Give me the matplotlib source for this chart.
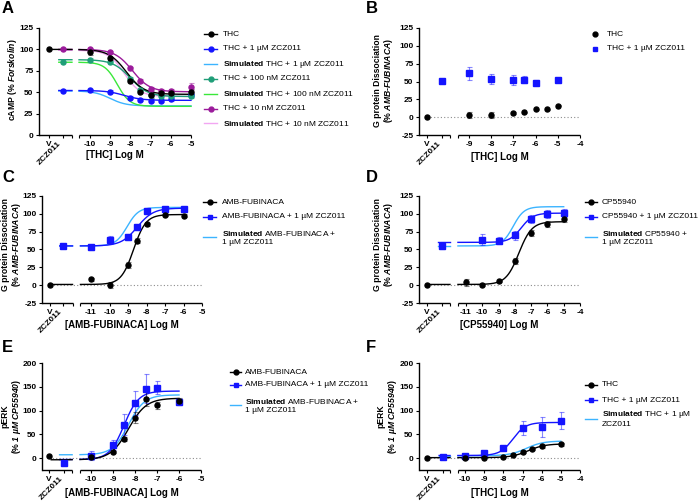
import numpy as np
import matplotlib
matplotlib.use("Agg")
import matplotlib.pyplot as plt
from matplotlib.lines import Line2D

plt.rcParams.update({
    "font.family": "Liberation Sans",
    "font.size": 6,
    "mathtext.fontset": "custom",
    "mathtext.rm": "Liberation Sans",
    "mathtext.it": "Liberation Sans:italic",
    "mathtext.bf": "Liberation Sans:bold",
    "mathtext.bfit": "Liberation Sans:italic:bold",
    "axes.unicode_minus": False,
})

# ---------------- data ----------------
# fit params: (left plateau, right plateau, logEC50, hill)

# A: cAMP, THC with ZCZ011
a_logc = [-10, -9, -8, -7.5, -7, -6.5, -6, -5]
a_thc = [97, 89.5, 63.5, 50.5, 46.5, 48.5, 49.5, 50.5]
a_thc_err = [3, 2, 2, 2, 3, 2, 2, 3]
a_thc_1u = [52, 50.5, 43.5, 41, 40, 40, 42, 46.5]
a_thc_1u_err = [1.5, 1.5, 1.5, 1.5, 2, 2, 2, 2]
a_thc_100n = [87.5, 85, 66, 52.5, 46.5, 45.5, 45.5, 45.5]
a_thc_100n_err = [2, 2, 2, 2, 2, 2, 2, 2]
a_thc_10n = [100, 97, 78, 63, 53.5, 51.5, 51.5, 56.5]
a_thc_10n_err = [1.5, 1.5, 2, 2, 2, 2, 2, 4]
a_vehicle = 100
a_zcz_1u, a_zcz_100n, a_zcz_10n = 51.7, 85.6, 100
a_fit_thc = (100, 47.5, -8.2, 1.0)
a_fit_1u = (52, 40.5, -8.3, 1.0)
a_sim_1u = (51.5, 34, -9.0, 1.1)
a_fit_100n = (88, 45, -8.0, 1.0)
a_sim_100n = (85, 33.5, -8.65, 1.4)
a_fit_10n = (100, 50.5, -7.9, 1.0)
a_sim_10n = (99, 45, -8.3, 1.1)

# B: G protein dissociation, THC
b_logc_thc = [-9, -8, -7, -6.5, -6, -5.5, -5]
b_thc = [2.8, 3, 6, 6.6, 10.8, 10.8, 16]
b_thc_err = [4, 4, 1, 1, 1, 1, 1]
b_logc_zcz = [-9, -8, -7, -6.5, -6, -5]
b_thc_1u = [61.5, 53.6, 51.5, 52.2, 48.4, 52]
b_thc_1u_err = [8.7, 7.3, 7, 5, 4, 2]
b_vehicle = 0
b_zcz_1u = 50.3

# C: G protein dissociation, AMB-FUBINACA
c_logc = [-11, -10, -9, -8.5, -8, -7, -6]
c_amb = [8, 0.5, 28, 62.6, 85.3, 98.6, 97.2]
c_amb_err = [2, 4, 4, 3, 2, 2, 2]
c_amb_1u = [53, 63.5, 67.8, 81, 103.5, 106.3, 107]
c_amb_1u_err = [4, 6, 4, 4, 4, 2, 2]
c_vehicle = 0
c_zcz_1u = 55.5
c_fit_amb = (1, 99, -8.7, 1.3)
c_fit_1u = (55, 108, -8.5, 1.0)
c_sim_1u = (55, 109, -9.05, 1.4)

# D: G protein dissociation, CP55940
d_logc_cp = [-11, -10, -9, -8, -7, -6, -5]
d_cp = [3.8, 0.5, 5.2, 33.6, 73.5, 85.8, 92.4]
d_cp_err = [5, 1, 1, 4, 4, 4, 4]
d_logc_zcz = [-10, -9, -8, -7, -6, -5]
d_cp_1u = [64, 62.6, 70, 92.9, 100, 101]
d_cp_1u_err = [8, 5, 6, 6, 6, 6]
d_vehicle = 0
d_zcz_1u = 55
d_zcz_1u_err = 5
d_fit_cp = (1, 89, -7.75, 1.1)
d_fit_1u = (60, 101, -7.6, 1.2)
d_sim_1u = (55, 110, -8.1, 1.3)

# E: pERK, AMB-FUBINACA
e_logc = [-10, -9, -8.5, -8, -7.5, -7, -6]
e_amb = [2, 12.7, 39.4, 85.2, 125, 111, 121]
e_amb_err = [3, 3, 4, 12, 15, 8, 6]
e_amb_1u = [5, 28, 70, 116, 146, 148, 118]
e_amb_1u_err = [10, 10, 22, 25, 31, 14, 7]
e_vehicle = 5
e_zcz_1u = -10.6
e_fit_amb = (-3.5, 126, -8.3, 1.07)
e_fit_1u = (-3, 141, -8.5, 1.3)
e_sim_1u = (7, 133, -8.3, 1.2)

# F: pERK, THC
f_logc_thc = [-10, -9, -8, -7.5, -7, -6.5, -6, -5]
f_thc = [0.7, 0.7, 2.8, 7, 12.7, 19, 24.6, 28.9]
f_thc_err = [1, 1, 1, 1.5, 2, 2, 3, 3]
f_logc_zcz = [-10, -9, -8, -7, -6, -5]
f_thc_1u = [4.2, 10, 20.4, 63.4, 65.5, 79]
f_thc_1u_err = [2, 5, 4, 14, 21, 17]
f_vehicle = 0.5
f_zcz_1u = 1.4
f_fit_thc = (1, 30, -6.7, 1.0)
f_fit_1u = (5.5, 75, -7.5, 1.3)
f_sim_1u = (5, 36, -6.8, 1.0)

# ---------------- styling / layout ----------------
BLACK = "#000000"
BLUE = "#1414ff"
LIGHT = "#3cb4ff"
TEAL = "#1f9e78"
LIME = "#3ae83a"
PURPLE = "#9b1b9b"
PINK = "#f2a6f2"

W, H = 700, 501


def fx(px):
    return px / W


def fy(py):
    return 1 - py / H


def hill(x, p):
    left, right, ec, h = p
    return right + (left - right) / (1 + 10 ** ((np.asarray(x) - ec) * h))


layouts = {
    "A": dict(rect=(39, 28, 191, 135), xlim=(-12.52, -5), ylim=(0, 125), v=-12.03, z=-11.34,
              seg_end=-10.89, seg_start=-10.54, xticks=range(-10, -4), yticks=range(0, 126, 25),
              xlabel="[THC] Log M", xlab_y=155, ylabel="cAMP (% $\\mathbfit{Forskolin}$)",
              ylab=(13, 80), letter=(2, 1), zero=False),
    "B": dict(rect=(419, 28, 580, 135), xlim=(-11.25, -4), ylim=(-25, 125), v=-10.89, z=-10.2,
              seg_end=-9.84, seg_start=-9.5, xticks=range(-9, -3), yticks=range(-25, 126, 25),
              xlabel="[THC] Log M", xlab_y=157,
              ylabel="G protein Dissociation\n(% $\\mathbfit{AMB}$-$\\mathbfit{FUBINACA}$)",
              ylab=(384, 81), letter=(366, 1), zero=True),
    "C": dict(rect=(42, 196, 202, 303), xlim=(-13.65, -5), ylim=(-25, 125), v=-13.24, z=-12.49,
              seg_end=-12.0, seg_start=-11.57, xticks=range(-11, -4), yticks=range(-25, 126, 25),
              xlabel="[AMB-FUBINACA] Log M", xlab_y=325,
              ylabel="G protein Dissociation\n(% $\\mathbfit{AMB}$-$\\mathbfit{FUBINACA}$)",
              ylab=(12, 245), letter=(2, 170), zero=True),
    "D": dict(rect=(419, 196, 580, 303), xlim=(-13.88, -4), ylim=(-25, 125), v=-13.4, z=-12.47,
              seg_end=-11.98, seg_start=-11.49, xticks=range(-11, -3), yticks=range(-25, 126, 25),
              xlabel="[CP55940] Log M", xlab_y=325,
              ylabel="G protein Dissociation\n(% $\\mathbfit{AMB}$-$\\mathbfit{FUBINACA}$)",
              ylab=(384, 245), letter=(366, 170), zero=True),
    "E": dict(rect=(42, 363, 201, 470), xlim=(-12.23, -5), ylim=(-25, 200), v=-11.91, z=-11.23,
              seg_end=-10.86, seg_start=-10.5, xticks=range(-10, -4), yticks=range(0, 201, 50),
              xlabel="[AMB-FUBINACA] Log M", xlab_y=493,
              ylabel="pERK\n(% $\\mathbfit{1\\ µM\\ CP55940}$)",
              ylab=(12, 416), letter=(2, 340), zero=True),
    "F": dict(rect=(419, 363, 580, 470), xlim=(-12.4, -4), ylim=(-25, 200), v=-11.98, z=-11.15,
              seg_end=-10.78, seg_start=-10.37, xticks=range(-10, -3), yticks=range(0, 201, 50),
              xlabel="[THC] Log M", xlab_y=493,
              ylabel="pERK\n(% $\\mathbfit{1\\ µM\\ CP55940}$)",
              ylab=(388, 416), letter=(366, 340), zero=True),
}

fig = plt.figure(figsize=(7, 5.01), dpi=100)


def make_axes(key):
    lay = layouts[key]
    l, t, r, b = lay["rect"]
    ax = fig.add_axes([fx(l), fy(b), (r - l) / W, (b - t) / H])
    ax.set_xlim(lay["xlim"])
    ax.set_ylim(lay["ylim"])
    for s in ["top", "right", "bottom"]:
        ax.spines[s].set_visible(False)
    ax.spines["left"].set_linewidth(1.0)
    ticks = [lay["v"], lay["z"], lay["seg_end"], lay["seg_start"]] + list(lay["xticks"])
    labels = ["V", "ZCZ011", "", ""] + [str(t) for t in lay["xticks"]]
    ax.set_xticks(ticks)
    ax.set_xticklabels(labels)
    ax.set_yticks(list(lay["yticks"]))
    ax.set_yticklabels([str(t) for t in lay["yticks"]])
    ax.tick_params(axis="both", direction="out", length=2.5, width=0.8, labelsize=6, pad=1.5)
    for lbl in ax.get_xticklabels() + ax.get_yticklabels():
        lbl.set_fontweight("bold")
    zl = ax.get_xticklabels()[1]
    zl.set_rotation(45)
    zl.set_ha("right")
    zl.set_va("top")
    tr = ax.get_xaxis_transform()
    ax.plot([lay["xlim"][0], lay["seg_end"]], [0, 0], transform=tr, color="k", lw=1.0,
            clip_on=False, solid_capstyle="butt")
    ax.plot([lay["seg_start"], lay["xlim"][1]], [0, 0], transform=tr, color="k", lw=1.0,
            clip_on=False, solid_capstyle="butt")
    if lay["zero"]:
        ax.plot([lay["v"], lay["xlim"][1]], [0, 0], color="#8c8c8c", lw=0.8,
                ls=(0, (1, 2)), zorder=1)
    cx = (l + r) / 2
    fig.text(fx(cx), fy(lay["xlab_y"]), lay["xlabel"], ha="center", va="center",
             fontsize=7, fontweight="bold")
    fig.text(fx(lay["ylab"][0]), fy(lay["ylab"][1]), lay["ylabel"], rotation=90,
             ha="center", va="center", multialignment="center", fontsize=6.2, fontweight="bold",
             linespacing=1.1)
    fig.text(fx(lay["letter"][0]), fy(lay["letter"][1]), key, ha="left", va="top",
             fontsize=12, fontweight="bold")
    return ax, lay


def curve(ax, lay, p, color, end, ctrl_start, lw=1.0):
    xl = np.linspace(ctrl_start, lay["seg_end"], 30)
    xr = np.linspace(lay["seg_start"], end, 200)
    ax.plot(xl, hill(xl, p), color=color, lw=lw, zorder=2, clip_on=False)
    ax.plot(xr, hill(xr, p), color=color, lw=lw, zorder=2, clip_on=False)


def points(ax, x, y, err, color, marker, ms):
    ax.errorbar(x, y, yerr=err, fmt="none", ecolor=color, alpha=0.5, elinewidth=0.8,
                capsize=1.8, capthick=0.8, zorder=3, clip_on=False)
    ax.plot(x, y, ls="none", marker=marker, ms=ms, color=color, zorder=4, clip_on=False)


def legend(entries, x0, x1, xt, rows):
    for (label, color, marker, line), y in zip(entries, rows):
        if line:
            fig.add_artist(Line2D([fx(x0), fx(x1)], [fy(y), fy(y)], color=color, lw=1.0,
                                  transform=fig.transFigure))
        if marker:
            fig.add_artist(Line2D([fx((x0 + x1) / 2)], [fy(y)], color=color, marker=marker,
                                  ms=3.5, ls="none", transform=fig.transFigure))
        fig.text(fx(xt), fy(y), label, ha="left", va="center", fontsize=6,
                 multialignment="left")


SIM = "$\\mathbf{Simulated}$ "
MS_C, MS_S = 3.6, 4.0

# ---------------- panel A ----------------
ax, lay = make_axes("A")
zs = lay["z"] - 0.2
curve(ax, lay, a_sim_1u, LIGHT, -5, zs)
curve(ax, lay, a_sim_100n, LIME, -5, zs)
curve(ax, lay, a_sim_10n, PINK, -5, zs)
curve(ax, lay, a_fit_1u, BLUE, -5, zs)
curve(ax, lay, a_fit_100n, TEAL, -5, zs)
curve(ax, lay, a_fit_10n, PURPLE, -5, zs)
curve(ax, lay, a_fit_thc, BLACK, -5, lay["v"])
points(ax, a_logc, a_thc_1u, a_thc_1u_err, BLUE, "o", MS_C)
points(ax, a_logc, a_thc_100n, a_thc_100n_err, TEAL, "o", MS_C)
points(ax, a_logc, a_thc_10n, a_thc_10n_err, PURPLE, "o", MS_C)
points(ax, a_logc, a_thc, a_thc_err, BLACK, "o", MS_C)
ax.plot([lay["z"]], [a_zcz_1u], "o", ms=MS_C, color=BLUE, zorder=4)
ax.plot([lay["z"]], [a_zcz_100n], "o", ms=MS_C, color=TEAL, zorder=4)
ax.plot([lay["z"]], [a_zcz_10n], "o", ms=MS_C, color=PURPLE, zorder=4)
ax.plot([lay["v"]], [a_vehicle], "o", ms=MS_C, color=BLACK, zorder=4, clip_on=False)
legend([("THC", BLACK, "o", True),
        ("THC + 1 µM ZCZ011", BLUE, "o", True),
        (SIM + "THC + 1 µM ZCZ011", LIGHT, None, True),
        ("THC + 100 nM ZCZ011", TEAL, "o", True),
        (SIM + "THC + 100 nM ZCZ011", LIME, None, True),
        ("THC + 10 nM ZCZ011", PURPLE, "o", True),
        (SIM + "THC + 10 nM ZCZ011", PINK, None, True)],
       204, 217, 223, [34, 49, 64, 79, 94, 109, 123])

# ---------------- panel B ----------------
ax, lay = make_axes("B")
points(ax, b_logc_zcz, b_thc_1u, b_thc_1u_err, BLUE, "s", MS_S)
points(ax, b_logc_thc, b_thc, b_thc_err, BLACK, "o", MS_C)
ax.plot([lay["z"]], [b_zcz_1u], "s", ms=MS_S, color=BLUE, zorder=4)
ax.plot([lay["v"]], [b_vehicle], "o", ms=MS_C, color=BLACK, zorder=4)
legend([("THC", BLACK, "o", False),
        ("THC + 1 µM ZCZ011", BLUE, "s", False)],
       592, 598, 607, [34, 49])

# ---------------- panel C ----------------
ax, lay = make_axes("C")
zs = lay["z"] - 0.2
curve(ax, lay, c_sim_1u, LIGHT, -6, zs)
curve(ax, lay, c_fit_1u, BLUE, -6, zs)
curve(ax, lay, c_fit_amb, BLACK, -6, lay["v"])
points(ax, c_logc, c_amb_1u, c_amb_1u_err, BLUE, "s", MS_S)
points(ax, c_logc, c_amb, c_amb_err, BLACK, "o", MS_C)
ax.plot([lay["z"]], [c_zcz_1u], "s", ms=MS_S, color=BLUE, zorder=4)
ax.plot([lay["v"]], [c_vehicle], "o", ms=MS_C, color=BLACK, zorder=4)
legend([("AMB-FUBINACA", BLACK, "o", True),
        ("AMB-FUBINACA + 1 µM ZCZ011", BLUE, "s", True),
        (SIM + "AMB-FUBINACA +\n1 µM ZCZ011", LIGHT, None, True)],
       203, 216, 222, [202, 217, 237])

# ---------------- panel D ----------------
ax, lay = make_axes("D")
zs = lay["z"] - 0.25
curve(ax, lay, d_sim_1u, LIGHT, -5, zs)
curve(ax, lay, d_fit_1u, BLUE, -5, zs)
curve(ax, lay, d_fit_cp, BLACK, -5, lay["v"])
points(ax, d_logc_zcz, d_cp_1u, d_cp_1u_err, BLUE, "s", MS_S)
points(ax, d_logc_cp, d_cp, d_cp_err, BLACK, "o", MS_C)
points(ax, [lay["z"]], [d_zcz_1u], [d_zcz_1u_err], BLUE, "s", MS_S)
ax.plot([lay["v"]], [d_vehicle], "o", ms=MS_C, color=BLACK, zorder=4)
legend([("CP55940", BLACK, "o", True),
        ("CP55940 + 1 µM ZCZ011", BLUE, "s", True),
        (SIM + "CP55940 +\n1 µM ZCZ011", LIGHT, None, True)],
       585, 597, 602, [202, 217, 237])

# ---------------- panel E ----------------
ax, lay = make_axes("E")
zs = lay["z"] - 0.2
curve(ax, lay, e_sim_1u, LIGHT, -6, zs)
curve(ax, lay, e_fit_1u, BLUE, -6, zs)
curve(ax, lay, e_fit_amb, BLACK, -6, lay["v"] + 0.1)
points(ax, e_logc, e_amb_1u, e_amb_1u_err, BLUE, "s", MS_S)
points(ax, e_logc, e_amb, e_amb_err, BLACK, "o", MS_C)
ax.plot([lay["z"]], [e_zcz_1u], "s", ms=MS_S, color=BLUE, zorder=4)
ax.plot([lay["v"]], [e_vehicle], "o", ms=MS_C, color=BLACK, zorder=4)
legend([("AMB-FUBINACA", BLACK, "o", True),
        ("AMB-FUBINACA + 1 µM ZCZ011", BLUE, "s", True),
        (SIM + "AMB-FUBINACA +\n1 µM ZCZ011", LIGHT, None, True)],
       230, 241, 245, [372, 385, 405])

# ---------------- panel F ----------------
ax, lay = make_axes("F")
zs = lay["z"] - 0.2
curve(ax, lay, f_sim_1u, LIGHT, -5, zs)
curve(ax, lay, f_fit_1u, BLUE, -5, zs)
curve(ax, lay, f_fit_thc, BLACK, -5, lay["v"])
points(ax, f_logc_zcz, f_thc_1u, f_thc_1u_err, BLUE, "s", MS_S)
points(ax, f_logc_thc, f_thc, f_thc_err, BLACK, "o", MS_C)
ax.plot([lay["z"]], [f_zcz_1u], "s", ms=MS_S, color=BLUE, zorder=4)
ax.plot([lay["v"]], [f_vehicle], "o", ms=MS_C, color=BLACK, zorder=4)
legend([("THC", BLACK, "o", True),
        ("THC + 1 µM ZCZ011", BLUE, "s", True),
        (SIM + "THC + 1 µM\nZCZ011", LIGHT, None, True)],
       585, 597, 602, [385, 400, 419])

fig.savefig("out.png", dpi=100)
